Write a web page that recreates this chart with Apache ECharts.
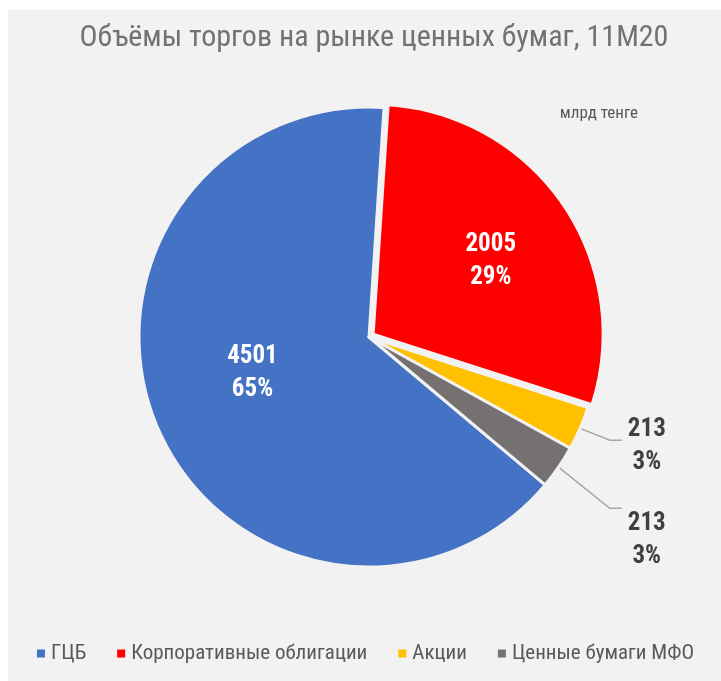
<!DOCTYPE html>
<html>
<head>
<meta charset="utf-8">
<script src="https://cdn.jsdelivr.net/npm/echarts@6/dist/echarts.min.js"></script>
<style>
  html, body { margin: 0; background: #ffffff; }
  #chart { position: absolute; left: 8px; top: 10px; width: 713px; height: 671px; background: #f2f2f2; }
</style>
</head>
<body>
<div id="chart"></div>
<script>
const categories = ['ГЦБ', 'Корпоративные облигации', 'Акции', 'Ценные бумаги МФО'];
const values = [4501, 2005, 213, 213];
const colors = ['#4472c4', '#ff0000', '#ffc000', '#767171'];

const fontCond = '"Roboto Condensed","Liberation Sans Narrow","DejaVu Sans Condensed","Arial Narrow",Roboto,sans-serif';

const insideLabel = {
  position: 'inside',
  color: '#ffffff',
  fontWeight: 'bold',
  fontSize: 25,
  lineHeight: 33
};
// outside labels: lines centred inside a fixed-width block
const outsideLabel = {
  position: 'outside',
  color: '#404040',
  fontWeight: 'bold',
  fontSize: 25,
  lineHeight: 33,
  alignTo: 'none',
  formatter: '{a|{c}}\n{a|{d}%}',
  rich: {
    a: { width: 40, align: 'center', color: '#404040', fontWeight: 'bold', fontSize: 25, lineHeight: 33, fontFamily: fontCond }
  }
};

const pieData = categories.map((name, i) => {
  const item = { name: name, value: values[i], itemStyle: { color: colors[i] } };
  if (i < 2) {
    item.label = insideLabel;
    if (i === 1) item.selected = true;
  } else {
    item.label = outsideLabel;
    item.labelLine = { show: true, length: i === 2 ? 30 : 62, length2: 12 };
  }
  return item;
});

const chart = echarts.init(document.getElementById('chart'));
chart.setOption({
  animation: false,
  color: colors,
  title: [
    {
      text: 'Объёмы торгов на рынке ценных бумаг, 11M20',
      left: 361,
      textAlign: 'center',
      top: 8,
      textStyle: { fontFamily: fontCond, fontSize: 30, fontWeight: 'normal', color: '#767171' }
    },
    {
      text: 'млрд тенге',
      right: 78,
      top: 90,
      textStyle: { fontFamily: fontCond, fontSize: 17, fontWeight: 'normal', color: '#595959' }
    }
  ],
  legend: {
    bottom: 12,
    left: 'center',
    icon: 'rect',
    itemWidth: 10,
    itemHeight: 10,
    itemGap: 29,
    textStyle: { fontFamily: fontCond, fontSize: 21, color: '#595959' },
    data: categories
  },
  series: [{
    type: 'pie',
    center: [361, 327],
    radius: 230,
    startAngle: -40,
    clockwise: true,
    selectedMode: 'single',
    selectedOffset: 5,
    avoidLabelOverlap: true,
    itemStyle: { borderColor: '#f2f2f2', borderWidth: 3 },
    label: { formatter: '{c}\n{d}%', fontFamily: fontCond },
    percentPrecision: 0,
    labelLine: { lineStyle: { color: '#a6a6a6', width: 1.5 }, smooth: false },
    labelLayout: function (params) {
      if (params.dataIndex === 0) return { dx: -8, dy: -10 };
      if (params.dataIndex === 1) return { dx: 20, dy: -7 };
      if (params.dataIndex === 2) return { dy: 6 };
      if (params.dataIndex === 3) return { dy: 32 };
      return {};
    },
    emphasis: { disabled: true },
    data: pieData
  }]
});
</script>
</body>
</html>
